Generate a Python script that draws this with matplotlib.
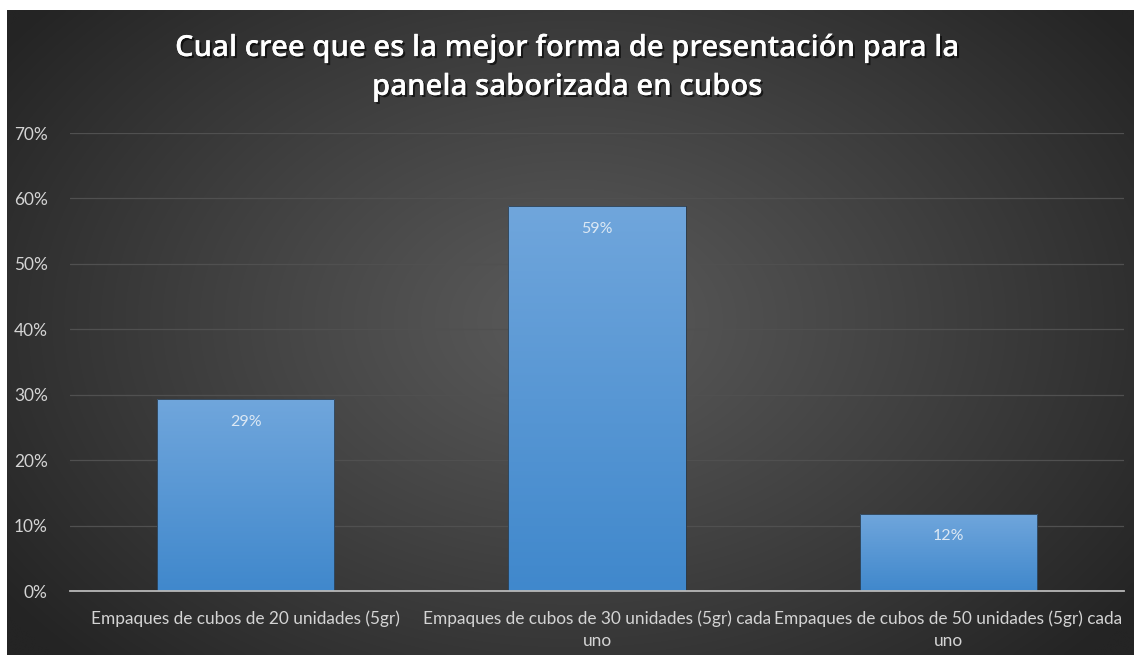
import numpy as np
import matplotlib
matplotlib.use("Agg")
import matplotlib.pyplot as plt
from matplotlib import patheffects as pe
from matplotlib.ticker import PercentFormatter

# Survey results
categories = [
    "Empaques de cubos de 20 unidades (5gr)",
    "Empaques de cubos de 30 unidades (5gr) cada\nuno",
    "Empaques de cubos de 50 unidades (5gr) cada\nuno",
]
values = [0.293, 0.588, 0.118]
value_labels = ["29%", "59%", "12%"]
yticks = [0.0, 0.1, 0.2, 0.3, 0.4, 0.5, 0.6, 0.7]
title = "Cual cree que es la mejor forma de presentación para la\npanela saborizada en cubos"

plt.rcParams["font.family"] = ["Lato", "DejaVu Sans"]

W, H = 1134, 655
fig = plt.figure(figsize=(W / 100, H / 100), dpi=100)
fig.patch.set_facecolor("white")

# Dark radial-gradient chart area
bg = fig.add_axes([7 / W, 0, (W - 7) / W, (H - 10) / H])
bg.set_axis_off()
ny, nx = 200, 350
yy, xx = np.mgrid[0:ny, 0:nx]
cx, cy = nx * 0.5, ny * 0.48
r = np.sqrt(((xx - cx) / (nx * 0.62)) ** 2 + ((yy - cy) / (ny * 0.75)) ** 2)
r = np.clip(r, 0, 1)
inner = np.array([0x5a, 0x5a, 0x5a]) / 255
outer = np.array([0x24, 0x24, 0x24]) / 255
t = r ** 1.1
img = inner[None, None, :] * (1 - t[..., None]) + outer[None, None, :] * t[..., None]
bg.imshow(img, aspect="auto", extent=[0, 1, 0, 1], interpolation="bicubic")
bg.set_xlim(0, 1)
bg.set_ylim(0, 1)

# Plot axes
left, right = 70 / W, 1124 / W
bottom, top = (H - 591) / H, (H - 133) / H
ax = fig.add_axes([left, bottom, right - left, top - bottom])
ax.patch.set_alpha(0)

x = np.arange(len(categories))
bars = ax.bar(x, values, width=0.505, color="none", zorder=3,
              edgecolor="#2a3a4a", linewidth=0.6)

# Vertical gradient fill inside each bar
top_c = np.array([0x70, 0xa6, 0xdc]) / 255
bot_c = np.array([0x40, 0x88, 0xcc]) / 255
grad = np.linspace(0, 1, 256)[:, None]
gimg = bot_c[None, None, :] * (1 - grad[..., None]) + top_c[None, None, :] * grad[..., None]
for b in bars:
    x0, y0 = b.get_x(), b.get_y()
    im = ax.imshow(gimg, extent=[x0, x0 + b.get_width(), y0, y0 + b.get_height()],
                   origin="lower", aspect="auto", zorder=2.5)
    im.set_clip_path(b)
ax.set_aspect("auto")
ax.set_xlim(-0.5, len(categories) - 0.5)
ax.set_ylim(0, 0.7)

for xi, v, lab in zip(x, values, value_labels):
    ax.annotate(lab, (xi, v), xytext=(0, -16), textcoords="offset points",
                ha="center", va="center", color="#dce8f4", fontsize=11.5, zorder=4)

ax.set_yticks(yticks)
ax.yaxis.set_major_formatter(PercentFormatter(1.0, decimals=0))
ax.grid(axis="y", color="#505050", linewidth=0.9, zorder=0)
ax.set_axisbelow(True)
ax.set_xticks(x)
ax.set_xticklabels(categories, linespacing=1.45, multialignment="center")
ax.tick_params(axis="both", length=0, colors="#d4d4d4", labelsize=12.4)
ax.tick_params(axis="x", pad=14)
ax.tick_params(axis="y", pad=16)
for s in ["top", "right", "left"]:
    ax.spines[s].set_visible(False)
ax.spines["bottom"].set_color("#b8b8b8")
ax.spines["bottom"].set_linewidth(1.3)
ax.spines["bottom"].set_zorder(5)

fig.text(0.5, (H - 68) / H, title, ha="center", va="center", color="white",
         family=["Open Sans", "DejaVu Sans"], fontsize=21, fontweight="semibold",
         linespacing=1.45,
         path_effects=[pe.withSimplePatchShadow(offset=(1.5, -1.5), shadow_rgbFace="black", alpha=0.6),
                       pe.Normal()])

fig.savefig("out.png", dpi=100, facecolor=fig.get_facecolor())
